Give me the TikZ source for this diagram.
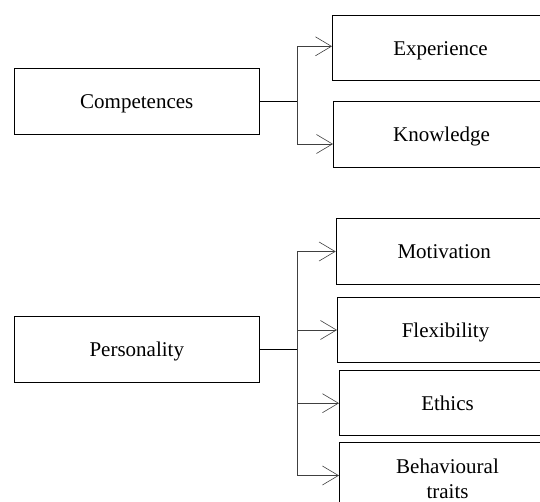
\documentclass[tikz,border=0pt]{standalone}
\usepackage{fontspec}
\setmainfont{Liberation Serif}
\usetikzlibrary{arrows.meta}

\begin{document}
\begin{tikzpicture}[x=1pt, y=-1pt,
		mainbox/.style = {draw, line width=1pt, minimum width=245pt, minimum height=66pt, inner sep=0pt, anchor=west, text height=20pt, text depth=5pt, font=\fontsize{21}{25}\selectfont},
		subbox/.style = {draw, line width=1pt, minimum width=216pt, minimum height=65.5pt, inner sep=0pt, anchor=west, align=center, text height=20pt, text depth=5pt, font=\fontsize{21}{25}\selectfont},
		stem/.style = {line width=0.6pt},
		branch/.style = {line width=0.6pt, draw=black!75, -{Straight Barb[length=16pt, width=19pt, line width=0.6pt]}}]
		\useasboundingbox (0,0) rectangle (540,502);
		\clip (0,0) rectangle (540,502);
		
		% upper group
		\node [mainbox] (comp) at (13.8, 101.3) {Competences};
		\node [subbox] (exp) at (332, 47.8) {Experience};
		\node [subbox] (know) at (333, 134.5) {Knowledge};
		\coordinate (cfork) at (297.5, 101.3);
		
		\draw [stem] (comp.east) -- (cfork);
		\draw [branch] (cfork) |- ([yshift=1.5pt]exp.west);
		\draw [branch] (cfork) |- ([yshift=-9.5pt]know.west);
		
		% lower group
		\node [mainbox] (pers) at (13.8, 349.2) {Personality};
		\node [subbox] (mot) at (335.7, 251.5) {Motivation};
		\node [subbox] (flex) at (337, 330) {Flexibility};
		\node [subbox] (eth) at (339, 403.2) {Ethics};
		\node [subbox, text height=45pt, text depth=0pt] (beh) at (339, 475.5) {Behavioural\\traits};
		\coordinate (pfork) at (297.5, 349.2);
		
		\draw [stem] (pers.east) -- (pfork);
		\draw [branch] (pfork) |- (mot.west);
		\draw [branch] (pfork) |- (flex.west);
		\draw [branch] (pfork) |- (eth.west);
		\draw [branch] (pfork) |- (beh.west);
		
\end{tikzpicture}
\end{document}
